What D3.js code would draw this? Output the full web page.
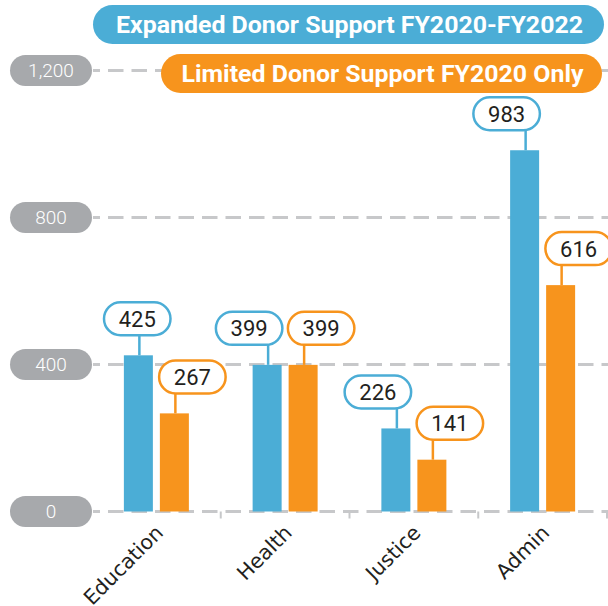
<!DOCTYPE html>
<html>
<head>
<meta charset="utf-8">
<script src="https://cdn.jsdelivr.net/npm/d3@7"></script>
<style>
  html, body { margin: 0; padding: 0; background: #fff; }
  svg { display: block; }
</style>
</head>
<body>
<svg id="chart" width="608" height="606"></svg>
<script>
// data
var categories = ['Education', 'Health', 'Justice', 'Admin']
var seriesNames = ['Expanded Donor Support FY2020-FY2022', 'Limited Donor Support FY2020 Only']
var expandedValues = [425, 399, 226, 983]
var limitedValues = [267, 399, 141, 616]
var yTicks = [0, 400, 800, 1200]

var colors = ['#4badd6', '#f7941d']
var pillGray = '#a7a9ac'
var gridGray = '#c7c8ca'
var textDark = '#231f20'

var svg = d3.select('#chart')

// scales
var x = d3.scaleBand().domain(categories).range([92, 607]).padding(0)
var bw = x.bandwidth()
var xSub = d3.scaleBand().domain([0, 1])
  .range([bw / 2 - 32.5, bw / 2 + 32.5])
  .paddingInner(0.1944).paddingOuter(0)
var y = d3.scaleLinear().domain([0, 1200]).range([511.5, 70.5])

// gridlines
svg.append('g').selectAll('line')
  .data(yTicks)
  .join('line')
  .attr('x1', 93).attr('x2', 608)
  .attr('y1', function (d) { return y(d) })
  .attr('y2', function (d) { return y(d) })
  .attr('stroke', gridGray)
  .attr('stroke-width', 3)
  .attr('stroke-dasharray', '15.5 8')
  .attr('stroke-dashoffset', 8.5)

// small ticks between categories
svg.append('g').selectAll('line')
  .data(categories)
  .join('line')
  .attr('x1', function (d) { return x(d) + bw })
  .attr('x2', function (d) { return x(d) + bw })
  .attr('y1', y(0)).attr('y2', y(0) + 7)
  .attr('stroke', gridGray)
  .attr('stroke-width', 2)

// y-axis pills
var fmt = d3.format(',')
var yPill = svg.append('g').selectAll('g')
  .data(yTicks)
  .join('g')
  .attr('transform', function (d) { return 'translate(51,' + y(d) + ')' })
yPill.append('rect')
  .attr('x', -41).attr('y', -15.5)
  .attr('width', 82).attr('height', 31)
  .attr('rx', 15.5)
  .attr('fill', pillGray)
yPill.append('text')
  .attr('text-anchor', 'middle')
  .attr('dy', '0.36em')
  .attr('fill', '#fff')
  .style('font-family', 'Roboto, sans-serif')
  .style('font-weight', 300)
  .style('font-size', '19px')
  .text(function (d) { return fmt(d) })

// legend pills
var legend = [
  { name: seriesNames[0], x0: 93, x1: 604, cy: 24.5, tl: 467 },
  { name: seriesNames[1], x0: 161, x1: 602, cy: 73.5, tl: 402 }
]
var lg = svg.append('g').selectAll('g')
  .data(legend)
  .join('g')
lg.append('rect')
  .attr('x', function (d) { return d.x0 })
  .attr('y', function (d) { return d.cy - 19.5 })
  .attr('width', function (d) { return d.x1 - d.x0 })
  .attr('height', 39)
  .attr('rx', 19.5)
  .attr('fill', function (d, i) { return colors[i] })
lg.append('text')
  .attr('x', function (d) { return (d.x0 + d.x1) / 2 + 1 })
  .attr('y', function (d) { return d.cy })
  .attr('dy', '0.36em')
  .attr('text-anchor', 'middle')
  .attr('textLength', function (d) { return d.tl })
  .attr('lengthAdjust', 'spacingAndGlyphs')
  .attr('fill', '#fff')
  .style('font-family', 'Roboto, sans-serif')
  .style('font-weight', 700)
  .style('font-size', '24px')
  .text(function (d) { return d.name })

// bars
var rows = []
categories.forEach(function (c, ci) {
  [expandedValues, limitedValues].forEach(function (vals, si) {
    rows.push({ cat: c, s: si, v: vals[ci] })
  })
})

var barW = xSub.bandwidth()
svg.append('g').selectAll('rect')
  .data(rows)
  .join('rect')
  .attr('x', function (d) { return x(d.cat) + xSub(d.s) })
  .attr('y', function (d) { return y(d.v) })
  .attr('width', barW)
  .attr('height', function (d) { return y(0) - y(d.v) })
  .attr('fill', function (d) { return colors[d.s] })

// value callouts
var pw = 66.5, ph = 33
rows.forEach(function (d) {
  d.bc = x(d.cat) + xSub(d.s) + barW / 2
  d.cx = d.bc + (d.s === 0 ? -18 : 18)
  if (d.cx - pw / 2 < 104) d.cx = 104 + pw / 2
})
var lab = svg.append('g').selectAll('g')
  .data(rows)
  .join('g')
lab.append('line')
  .attr('x1', function (d) { return d.bc + 1 })
  .attr('x2', function (d) { return d.bc + 1 })
  .attr('y1', function (d) { return y(d.v) })
  .attr('y2', function (d) { return y(d.v) - 20 })
  .attr('stroke', function (d) { return colors[d.s] })
  .attr('stroke-width', 2.5)
lab.append('rect')
  .attr('x', function (d) { return d.cx - pw / 2 })
  .attr('y', function (d) { return y(d.v) - 20 - ph })
  .attr('width', pw).attr('height', ph)
  .attr('rx', ph / 2)
  .attr('fill', '#fff')
  .attr('stroke', function (d) { return colors[d.s] })
  .attr('stroke-width', 2.5)
lab.append('text')
  .attr('x', function (d) { return d.cx })
  .attr('y', function (d) { return y(d.v) - 20 - ph / 2 })
  .attr('dy', '0.36em')
  .attr('text-anchor', 'middle')
  .attr('fill', textDark)
  .style('font-family', 'Roboto, sans-serif')
  .style('font-size', '22px')
  .text(function (d) { return d.v })

// category labels
svg.append('g').selectAll('text')
  .data(categories)
  .join('text')
  .attr('transform', function (d) {
    return 'translate(' + (x(d) + bw / 2 + 8) + ',534) rotate(-45)'
  })
  .attr('text-anchor', 'end')
  .attr('fill', textDark)
  .style('font-family', '"DejaVu Sans", sans-serif')
  .style('font-size', '20.5px')
  .text(function (d) { return d })
</script>
</body>
</html>
